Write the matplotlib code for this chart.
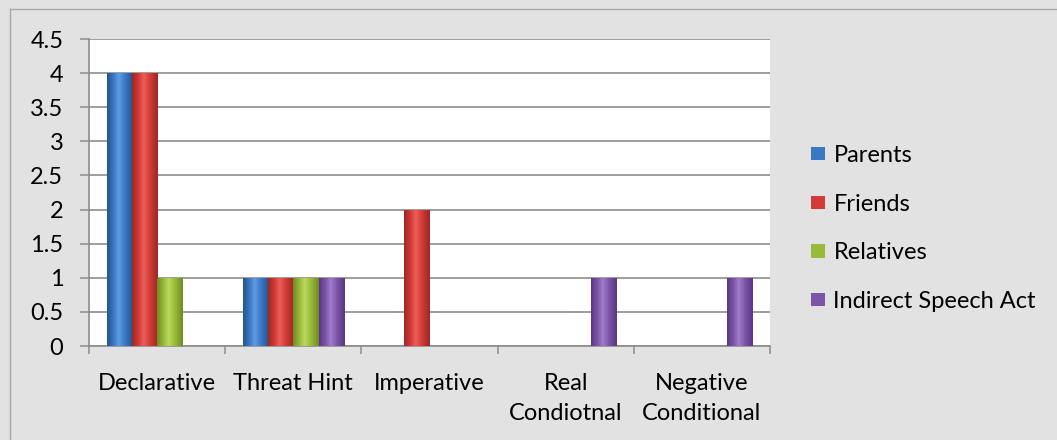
import numpy as np
import matplotlib
matplotlib.use("Agg")
import matplotlib.pyplot as plt
from matplotlib.colors import LinearSegmentedColormap
from matplotlib.lines import Line2D

# ---- data ----
categories = ["Declarative", "Threat Hint", "Imperative", "Real\nCondiotnal", "Negative\nConditional"]
series_names = ["Parents", "Friends", "Relatives", "Indirect Speech Act"]
parents = [4, 1, 0, 0, 0]
friends = [4, 1, 2, 0, 0]
relatives = [1, 1, 0, 0, 0]
indirect_speech_act = [0, 1, 0, 1, 1]
y_ticks = [0, 0.5, 1, 1.5, 2, 2.5, 3, 3.5, 4, 4.5]
y_tick_labels = ["0", "0.5", "1", "1.5", "2", "2.5", "3", "3.5", "4", "4.5"]

series_values = [parents, friends, relatives, indirect_speech_act]
# (edge shade, body, highlight) for a cylinder-like look
palette = [
    ("#24558f", "#3b78c4", "#5d9de6"),
    ("#9c2926", "#d23b36", "#ee5e58"),
    ("#6f8c22", "#98ba38", "#bcd95e"),
    ("#583782", "#7d55a8", "#a07acb"),
]

plt.rcParams["font.family"] = ["Lato", "DejaVu Sans"]
FS = 17
GRID = "#8c8c8c"

fig = plt.figure(figsize=(10.57, 4.40), dpi=100, facecolor="#e2e2e2")
ax = fig.add_axes([0.0842, 0.2136, 0.6443, 0.6977])
ax.set_facecolor("white")

x = np.arange(len(categories))
width = 0.185
grad = np.linspace(0, 1, 64)[None, :]

for i, (name, vals) in enumerate(zip(series_names, series_values)):
    dark, mid, light = palette[i]
    cmap = LinearSegmentedColormap.from_list(
        name, [(0, dark), (0.25, mid), (0.45, light), (0.7, mid), (1, dark)])
    bars = ax.bar(x + (i - 1.5) * width, vals, width, color=mid,
                  linewidth=0, label=name, zorder=3)
    for b in bars:
        h = b.get_height()
        if h <= 0:
            continue
        x0, w = b.get_x(), b.get_width()
        im = ax.imshow(grad, cmap=cmap, extent=[x0, x0 + w, 0, h],
                       aspect="auto", interpolation="bicubic", zorder=3.1)
        im.set_clip_path(b)

ax.set_xlim(-0.5, len(categories) - 0.5)
ax.set_ylim(0, 4.5)

ax.set_yticks(y_ticks)
ax.set_yticklabels(y_tick_labels, fontsize=FS)
ax.tick_params(axis="y", length=6.5, width=1.1, color=GRID, pad=12)

ax.set_xticks(x)
ax.set_xticklabels(categories, fontsize=FS, linespacing=1.55)
ax.tick_params(axis="x", which="major", length=0, pad=19.5)
ax.set_xticks(np.arange(-0.5, len(categories), 1), minor=True)
ax.tick_params(axis="x", which="minor", length=6, width=1.1, color=GRID)

ax.yaxis.grid(True, color=GRID, linewidth=1.2)
ax.set_axisbelow(True)
for side in ("top", "right"):
    ax.spines[side].set_visible(False)
for side in ("left", "bottom"):
    ax.spines[side].set_color(GRID)
    ax.spines[side].set_linewidth(1.2)

handles, labels = ax.get_legend_handles_labels()
leg = ax.legend(handles, labels, loc="upper left",
                bbox_to_anchor=(811 / 1057, 1 - 145 / 440),
                bbox_transform=fig.transFigure, frameon=False,
                fontsize=FS, borderpad=0, borderaxespad=0,
                handlelength=0.6, handleheight=0.5, handletextpad=0.35,
                labelspacing=1.17)

# outer chart frame (left and top edges)
fx, fy = 10 / 1057, 1 - 9 / 440
fig.add_artist(Line2D([fx, fx], [0, fy], transform=fig.transFigure, color="#a8a8a8", lw=1))
fig.add_artist(Line2D([fx, 1], [fy, fy], transform=fig.transFigure, color="#a8a8a8", lw=1))

fig.savefig("out.png", dpi=100, facecolor=fig.get_facecolor())
